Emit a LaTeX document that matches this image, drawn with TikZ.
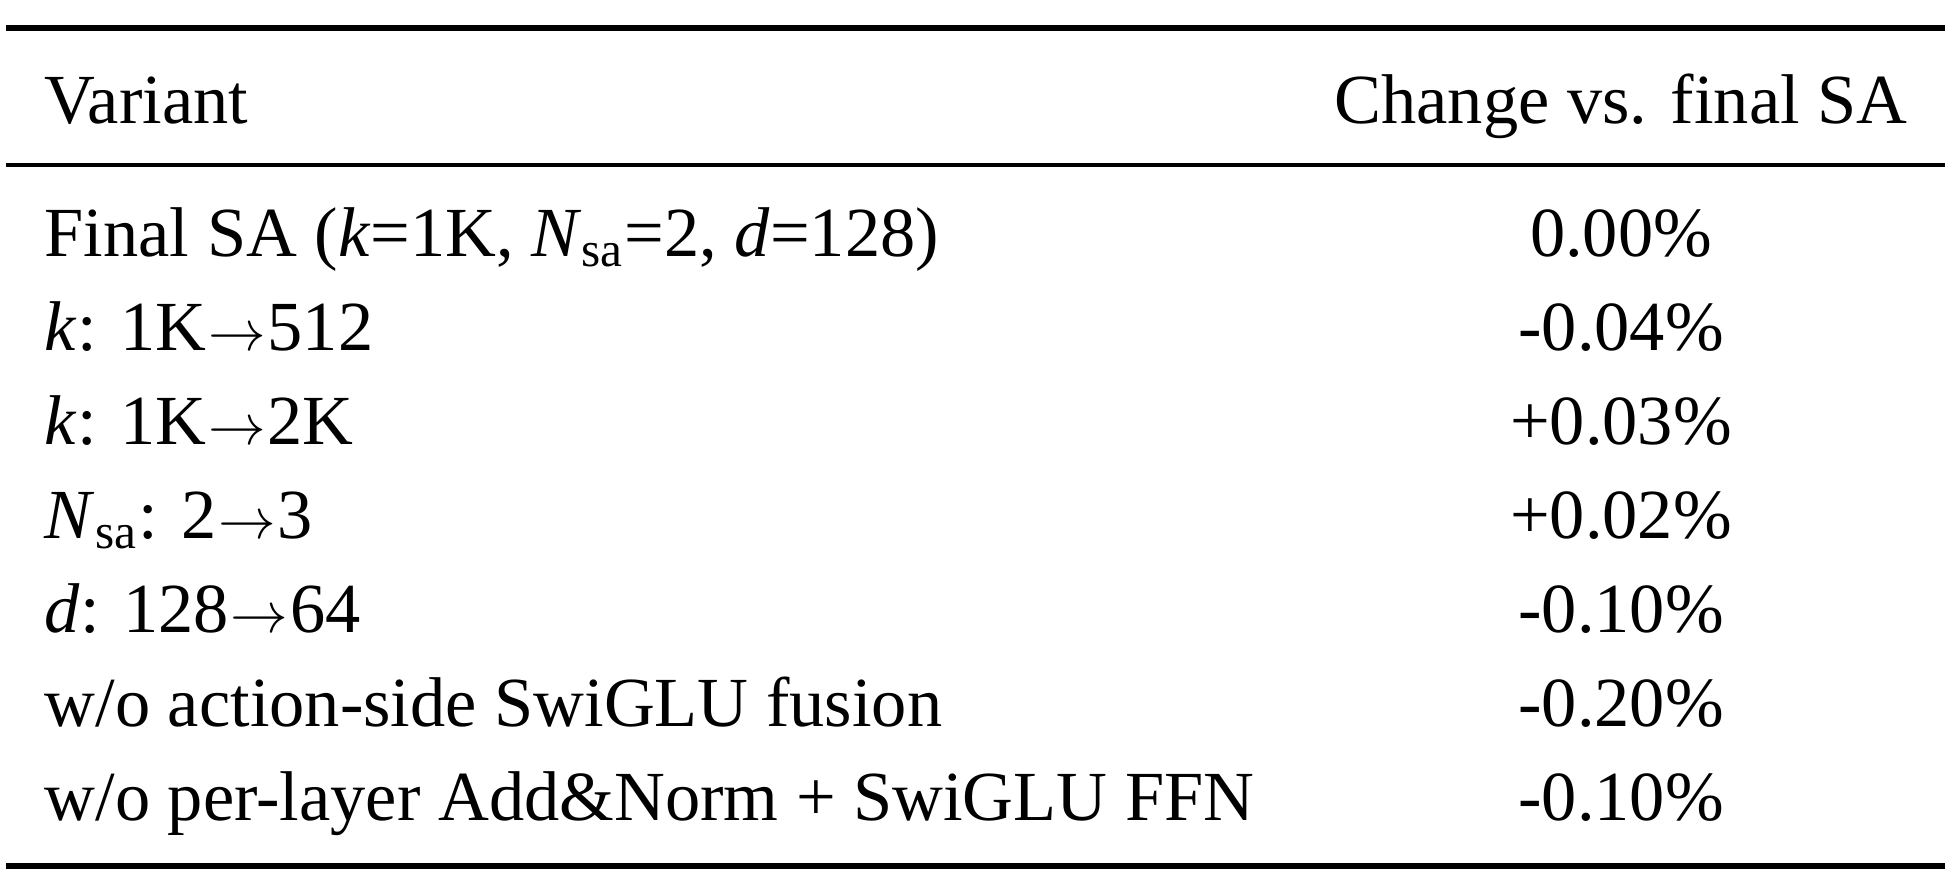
\documentclass[tikz,border=0pt]{standalone}
\usepackage{fontspec}
\setmainfont{Liberation Serif}
\newcommand{\myarrow}{\kern0.5pt{\fontsize{15.5}{18}\selectfont$\rightarrow$}\kern0.5pt}
\begin{document}
\begin{tikzpicture}[x=0.25pt,y=-0.25pt,
  cell/.style={inner sep=0pt,font=\fontsize{17.6}{20}\selectfont},
  lcell/.style={cell,anchor=base west},
  rcell/.style={cell,anchor=base},
  heavyrule/.style={line width=1.6pt},
  lightrule/.style={line width=1pt}]
\useasboundingbox (0,0) rectangle (1953,882);
\coordinate (tl) at (6,28);  \coordinate (tr) at (1945,28);
\coordinate (ml) at (6,165); \coordinate (mr) at (1945,165);
\coordinate (bl) at (6,866); \coordinate (br) at (1945,866);
\draw[heavyrule] (tl) -- (tr);
\draw[lightrule] (ml) -- (mr);
\draw[heavyrule] (bl) -- (br);
\node[lcell] (h1) at (44,123) {Variant};
\node[rcell] (h2) at (1621,123) {Change vs. final SA};
\node[lcell] (a1) at (44,256) {Final SA (\textit{k}=1K, \textit{N}\textsubscript{sa}=2, \textit{d}=128)};
\node[rcell] (b1) at (1621,256) {0.00\%};
\node[lcell] (a2) at (44,350) {\textit{k}: 1K\myarrow 512};
\node[rcell] (b2) at (1621,350) {-0.04\%};
\node[lcell] (a3) at (44,444) {\textit{k}: 1K\myarrow 2K};
\node[rcell] (b3) at (1621,444) {+0.03\%};
\node[lcell] (a4) at (44,538) {\textit{N}\textsubscript{sa}: 2\myarrow 3};
\node[rcell] (b4) at (1621,538) {+0.02\%};
\node[lcell] (a5) at (44,632) {\textit{d}: 128\myarrow 64};
\node[rcell] (b5) at (1621,632) {-0.10\%};
\node[lcell] (a6) at (44,726) {w/o action-side SwiGLU fusion};
\node[rcell] (b6) at (1621,726) {-0.20\%};
\node[lcell] (a7) at (44,820) {w/o per-layer Add\&Norm + SwiGLU FFN};
\node[rcell] (b7) at (1621,820) {-0.10\%};
\end{tikzpicture}
\end{document}
